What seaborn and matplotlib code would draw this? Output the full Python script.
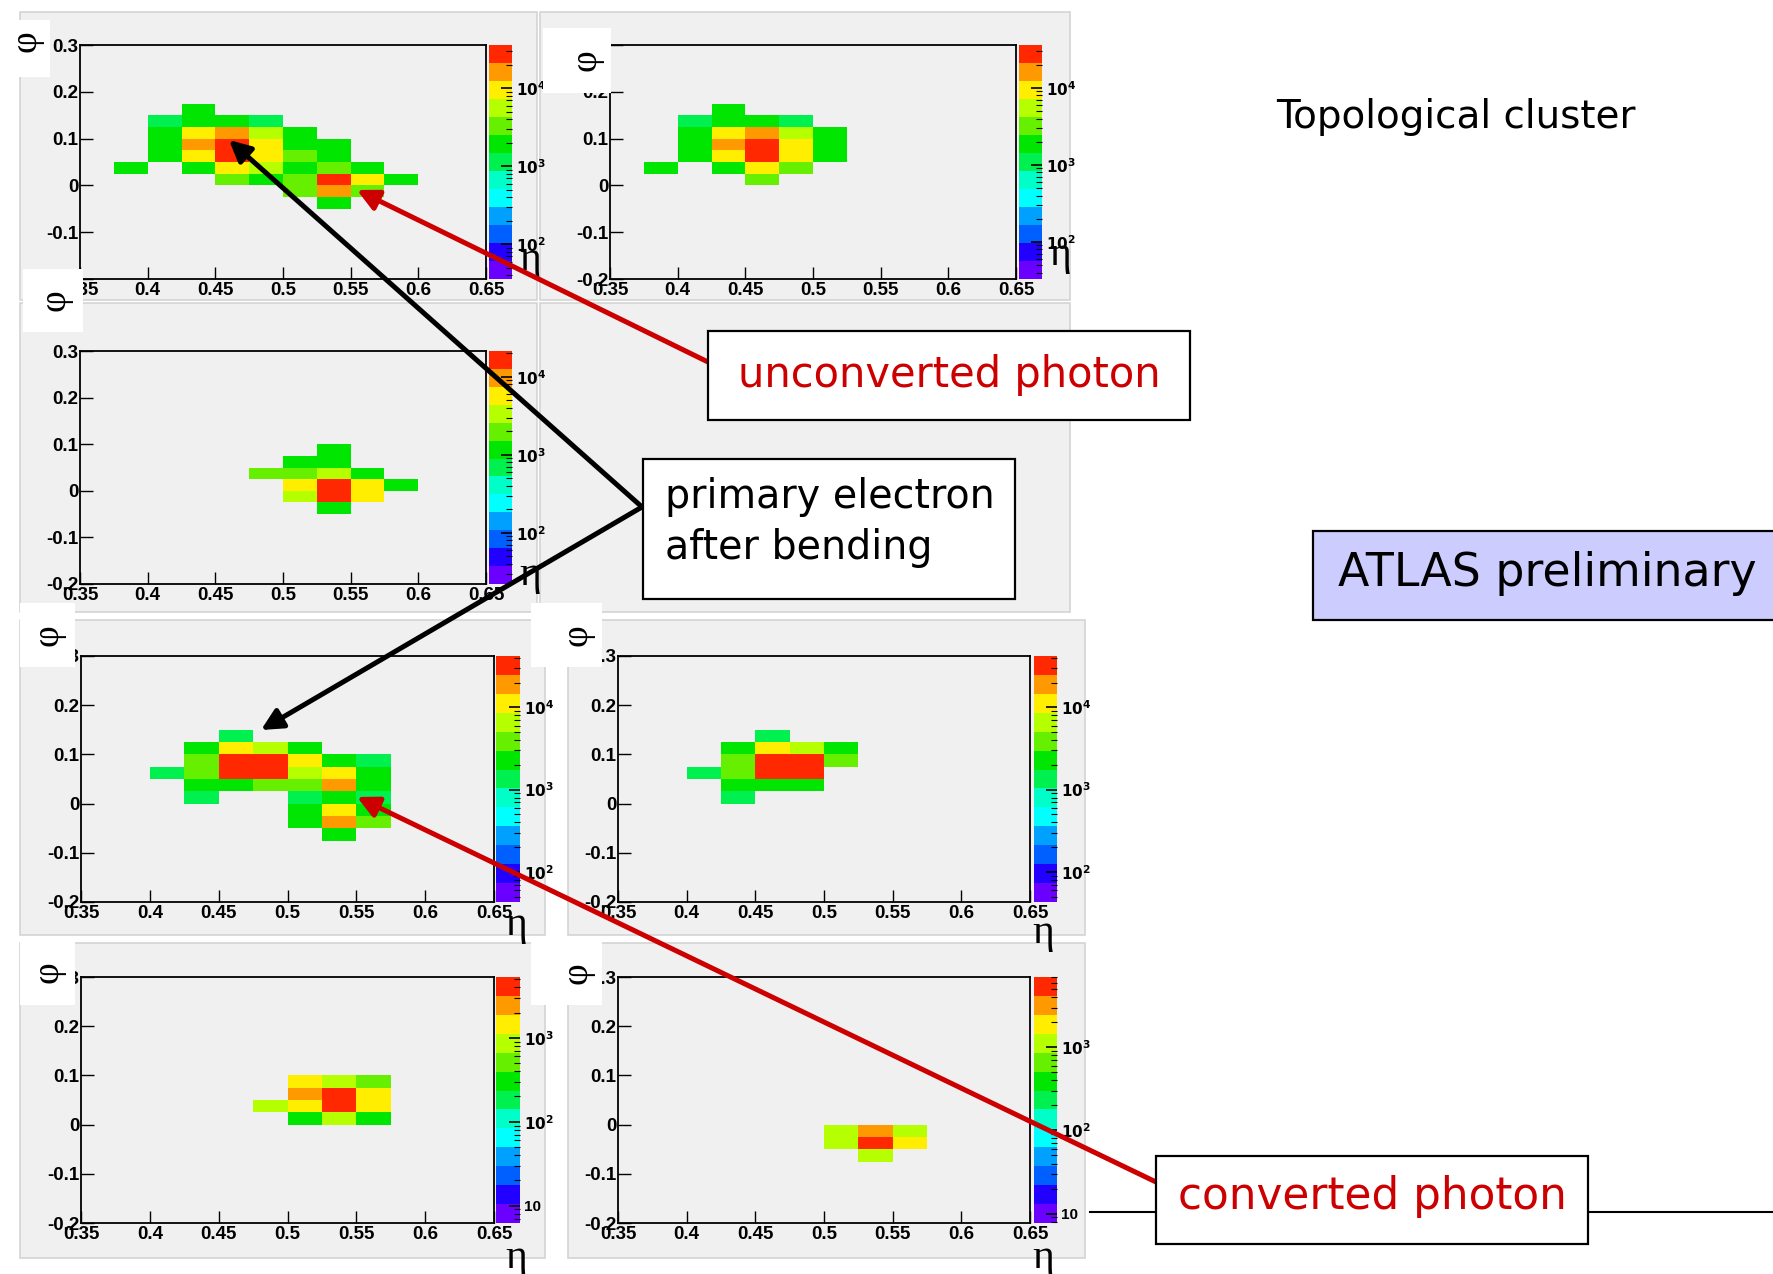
import numpy as np
import pandas as pd
import seaborn as sns
import matplotlib
matplotlib.use("Agg")
import matplotlib.pyplot as plt
from matplotlib.colors import ListedColormap, LogNorm
from matplotlib.patches import Rectangle, FancyArrowPatch
from matplotlib.ticker import LogLocator, NullFormatter, FuncFormatter

W, H = 1773, 1274

# binning: 12 eta bins (0.35 -> 0.65), 20 phi bins (0.3 at the top -> -0.2)
n_eta, n_phi = 12, 20
eta_ticks = ["0.35", "0.4", "0.45", "0.5", "0.55", "0.6", "0.65"]
phi_ticks = ["0.3", "0.2", "0.1", "0", "-0.1", "-0.2"]

# energy per cell, only the phi rows with hits (first_row = row index from the top), 0 = empty
p1_first_row = 5
p1_counts = [
    [0, 0, 0, 1900, 0, 0, 0, 0, 0, 0, 0, 0],
    [0, 0, 1150, 2100, 1800, 1100, 0, 0, 0, 0, 0, 0],
    [0, 0, 1900, 9800, 17000, 5600, 1700, 0, 0, 0, 0, 0],
    [0, 0, 2000, 14000, 31000, 9200, 1800, 1900, 0, 0, 0, 0],
    [0, 0, 1800, 9500, 25000, 9000, 3100, 2000, 0, 0, 0, 0],
    [0, 1700, 0, 2000, 8800, 5200, 1900, 3400, 1800, 0, 0, 0],
    [0, 0, 0, 0, 3300, 1800, 3200, 29000, 8500, 1900, 0, 0],
    [0, 0, 0, 0, 0, 0, 3000, 15500, 3300, 0, 0, 0],
    [0, 0, 0, 0, 0, 0, 0, 1900, 0, 0, 0, 0],
]

p2_first_row = 5
p2_counts = [
    [0, 0, 0, 1900, 0, 0, 0, 0, 0, 0, 0, 0],
    [0, 0, 1150, 2100, 1900, 1100, 0, 0, 0, 0, 0, 0],
    [0, 0, 1900, 9800, 17000, 5500, 1800, 0, 0, 0, 0, 0],
    [0, 0, 2000, 14000, 31000, 9200, 1900, 0, 0, 0, 0, 0],
    [0, 0, 1800, 9400, 25000, 9000, 1900, 0, 0, 0, 0, 0],
    [0, 1700, 0, 2000, 8800, 3600, 0, 0, 0, 0, 0, 0],
    [0, 0, 0, 0, 3400, 0, 0, 0, 0, 0, 0, 0],
]

p3_first_row = 8
p3_counts = [
    [0, 0, 0, 0, 0, 0, 0, 1200, 0, 0, 0, 0],
    [0, 0, 0, 0, 0, 0, 1200, 1200, 0, 0, 0, 0],
    [0, 0, 0, 0, 0, 2000, 1900, 3000, 1200, 0, 0, 0],
    [0, 0, 0, 0, 0, 0, 4600, 18000, 6000, 1200, 0, 0],
    [0, 0, 0, 0, 0, 0, 3200, 14000, 4800, 0, 0, 0],
    [0, 0, 0, 0, 0, 0, 0, 1200, 0, 0, 0, 0],
]

p4_first_row = 6
p4_counts = [
    [0, 0, 0, 0, 1300, 0, 0, 0, 0, 0, 0, 0],
    [0, 0, 0, 2200, 10000, 6500, 2300, 0, 0, 0, 0, 0],
    [0, 0, 0, 3800, 36000, 28000, 10500, 2200, 1350, 0, 0, 0],
    [0, 0, 1300, 3700, 29000, 28000, 6000, 12000, 2300, 0, 0, 0],
    [0, 0, 0, 2300, 2400, 3600, 3500, 17000, 2200, 0, 0, 0],
    [0, 0, 0, 1300, 0, 0, 1350, 2300, 1300, 0, 0, 0],
    [0, 0, 0, 0, 0, 0, 2200, 10000, 2300, 0, 0, 0],
    [0, 0, 0, 0, 0, 0, 2300, 17500, 3800, 0, 0, 0],
    [0, 0, 0, 0, 0, 0, 0, 2200, 0, 0, 0, 0],
]

p5_first_row = 6
p5_counts = [
    [0, 0, 0, 0, 1300, 0, 0, 0, 0, 0, 0, 0],
    [0, 0, 0, 2200, 10000, 6200, 2300, 0, 0, 0, 0, 0],
    [0, 0, 0, 3800, 36000, 28000, 3900, 0, 0, 0, 0, 0],
    [0, 0, 1300, 3700, 29000, 28500, 0, 0, 0, 0, 0, 0],
    [0, 0, 0, 2300, 2400, 2300, 0, 0, 0, 0, 0, 0],
    [0, 0, 0, 1300, 0, 0, 0, 0, 0, 0, 0, 0],
]

p6_first_row = 8
p6_counts = [
    [0, 0, 0, 0, 0, 0, 1300, 850, 520, 0, 0, 0],
    [0, 0, 0, 0, 0, 0, 2200, 3600, 1150, 0, 0, 0],
    [0, 0, 0, 0, 0, 800, 1250, 4500, 1150, 0, 0, 0],
    [0, 0, 0, 0, 0, 0, 330, 1050, 330, 0, 0, 0],
]

p7_first_row = 12
p7_counts = [
    [0, 0, 0, 0, 0, 0, 1000, 3200, 1000, 0, 0, 0],
    [0, 0, 0, 0, 0, 0, 1000, 5500, 1500, 0, 0, 0],
    [0, 0, 0, 0, 0, 0, 0, 950, 0, 0, 0, 0],
]

# colour scale range of each panel
z_min = [36, 33, 22, 43, 43, 6.2, 7.7]
z_max = [36000, 36000, 21500, 42000, 42000, 5300, 7000]

# ROOT rainbow palette, bottom -> top
root_colors = ['#6a00ff', '#2200ff', '#0060ff', '#00a0ff', '#00ffff', '#00ffc8', '#00f050',
               '#00e600', '#66f000', '#b5ff00', '#ffee00', '#ff9900', '#ff2800']
root_cmap = ListedColormap(root_colors)

plt.rcParams['font.family'] = ['Liberation Sans', 'DejaVu Sans']


def frac(x0, y0, x1, y1):
    return [x0 / W, 1 - y1 / H, (x1 - x0) / W, (y1 - y0) / H]


def pt(x, y):
    return (x / W, 1 - y / H)


def full_grid(first_row, counts):
    grid = np.zeros((n_phi, n_eta))
    grid[first_row:first_row + len(counts)] = counts
    return pd.DataFrame(grid)


def root_log_label(v, pos):
    e = int(round(np.log10(v)))
    return "10" if e == 1 else r"$\mathbf{10^{%d}}$" % e


fig = plt.figure(figsize=(W / 100, H / 100), dpi=100)
fig.patch.set_facecolor('white')

# gray canvas pads behind the histograms
pads = [(20, 12, 537, 300), (540, 12, 1070, 300), (20, 303, 537, 612), (540, 303, 1070, 612),
        (20, 620, 545, 935), (568, 620, 1085, 935), (20, 943, 545, 1258), (568, 943, 1085, 1258)]
for x0, y0, x1, y1 in pads:
    r = frac(x0, y0, x1, y1)
    fig.add_artist(Rectangle((r[0], r[1]), r[2], r[3], transform=fig.transFigure,
                             facecolor='#f0f0f0', edgecolor='#d4d4d4', lw=1.2, zorder=-1))

panels = [
    (p1_first_row, p1_counts, (80, 45, 486, 279), (489, 45, 512, 279), (0, 20, 50, 77), (26, 41), (530, 260)),
    (p2_first_row, p2_counts, (610, 45, 1016, 279), (1019, 45, 1042, 279), (543, 28, 611, 93), (586, 60), (1060, 255)),
    (p3_first_row, p3_counts, (80, 351, 486, 584), (489, 351, 512, 584), (23, 269, 83, 332), (55, 300), (530, 575)),
    (p4_first_row, p4_counts, (81, 656, 494, 902), (496, 656, 520, 902), (20, 603, 75, 667), (48, 635), (516, 925)),
    (p5_first_row, p5_counts, (618, 656, 1030, 902), (1034, 656, 1057, 902), (531, 603, 602, 667), (577, 635), (1043, 933)),
    (p6_first_row, p6_counts, (81, 977, 494, 1223), (496, 977, 520, 1223), (20, 940, 75, 1005), (48, 972), (516, 1258)),
    (p7_first_row, p7_counts, (618, 977, 1030, 1223), (1034, 977, 1057, 1223), (531, 940, 602, 1005), (577, 973), (1043, 1258)),
]

for i, (first_row, counts, ax_box, cb_box, phi_box, phi_xy, eta_xy) in enumerate(panels):
    ax = fig.add_axes(frac(*ax_box))
    cax = fig.add_axes(frac(*cb_box))
    df = full_grid(first_row, counts)
    sns.heatmap(df, ax=ax, cbar_ax=cax, cmap=root_cmap, mask=(df == 0),
                norm=LogNorm(vmin=z_min[i], vmax=z_max[i]),
                xticklabels=False, yticklabels=False)
    ax.set_facecolor('#f0f0f0')
    for s in ax.spines.values():
        s.set_visible(True)
        s.set_color('black')
        s.set_linewidth(1.3)
    ax.set_xticks(np.arange(0, n_eta + 1, 2))
    ax.set_xticklabels(eta_ticks)
    ax.set_yticks(np.arange(0, n_phi + 1, 4))
    ax.set_yticklabels(phi_ticks)
    ax.tick_params(direction='in', length=9, width=1, pad=1, labelsize=13.5, colors='black')
    ax.tick_params(axis='x', pad=2)
    for lab in ax.get_xticklabels() + ax.get_yticklabels():
        lab.set_fontweight('bold')
        lab.set_rotation(0)

    cb = ax.collections[0].colorbar
    cb.outline.set_visible(False)
    cax.yaxis.set_major_locator(LogLocator(base=10))
    cax.yaxis.set_major_formatter(FuncFormatter(root_log_label))
    cax.yaxis.set_minor_locator(LogLocator(base=10, subs=np.arange(2, 10)))
    cax.yaxis.set_minor_formatter(NullFormatter())
    cax.tick_params(which='major', direction='in', length=8, width=1.2, labelsize=11, pad=3)
    cax.tick_params(which='minor', direction='in', length=4, width=0.8)
    for lab in cax.get_yticklabels():
        lab.set_fontweight('bold')

    # white title boxes with the axis symbols
    r = frac(*phi_box)
    fig.add_artist(Rectangle((r[0], r[1]), r[2], r[3], transform=fig.transFigure,
                             facecolor='white', edgecolor='none', zorder=3))
    fig.text(*pt(*phi_xy), "φ", rotation=90, fontsize=27, family='Liberation Serif',
             ha='center', va='center', zorder=4)
    fig.text(*pt(*eta_xy), "η", fontsize=30, family='Liberation Serif',
             ha='center', va='center', zorder=4)

# annotation boxes
boxes = [((708, 331, 1190, 420), 'white'), ((643, 459, 1015, 599), 'white'),
         ((1313, 531, 1790, 620), '#ccccff'), ((1156, 1156, 1588, 1244), 'white')]
for (x0, y0, x1, y1), fc in boxes:
    r = frac(x0, y0, x1, y1)
    fig.add_artist(Rectangle((r[0], r[1]), r[2], r[3], transform=fig.transFigure,
                             facecolor=fc, edgecolor='black', lw=1.6, zorder=6))

# line through the converted photon label
for xa, xb in [(1090, 1156), (1588, 1773)]:
    fig.add_artist(plt.Line2D([xa / W, xb / W], [1 - 1212 / H, 1 - 1212 / H],
                              transform=fig.transFigure, color='black', lw=1.5, zorder=5))

txt = dict(family='DejaVu Sans', zorder=7)
fig.text(*pt(1456, 117), "Topological cluster", fontsize=28, ha='center', va='center', **txt)
fig.text(*pt(949, 375), "unconverted photon", fontsize=30, color='#cc0000', ha='center', va='center', **txt)
fig.text(*pt(665, 497), "primary electron", fontsize=28.5, ha='left', va='center', **txt)
fig.text(*pt(665, 548), "after bending", fontsize=28.5, ha='left', va='center', **txt)
fig.text(*pt(1338, 573), "ATLAS preliminary", fontsize=33, ha='left', va='center', **txt)
fig.text(*pt(1372, 1196), "converted photon", fontsize=31.5, color='#cc0000', ha='center', va='center', **txt)

# arrows from the labels to the clusters
arrows = [((708, 362), (357, 190), '#cc0000'),
          ((642, 507), (229, 140), 'black'),
          ((642, 507), (261, 730), 'black'),
          ((1156, 1182), (357, 797), '#cc0000')]
for tail, head, col in arrows:
    fig.add_artist(FancyArrowPatch(pt(*tail), pt(*head), transform=fig.transFigure,
                                   arrowstyle='-|>', mutation_scale=32, lw=3.6, color=col,
                                   shrinkA=0, shrinkB=0, zorder=5))

fig.savefig("out.png", dpi=100, facecolor='white')
